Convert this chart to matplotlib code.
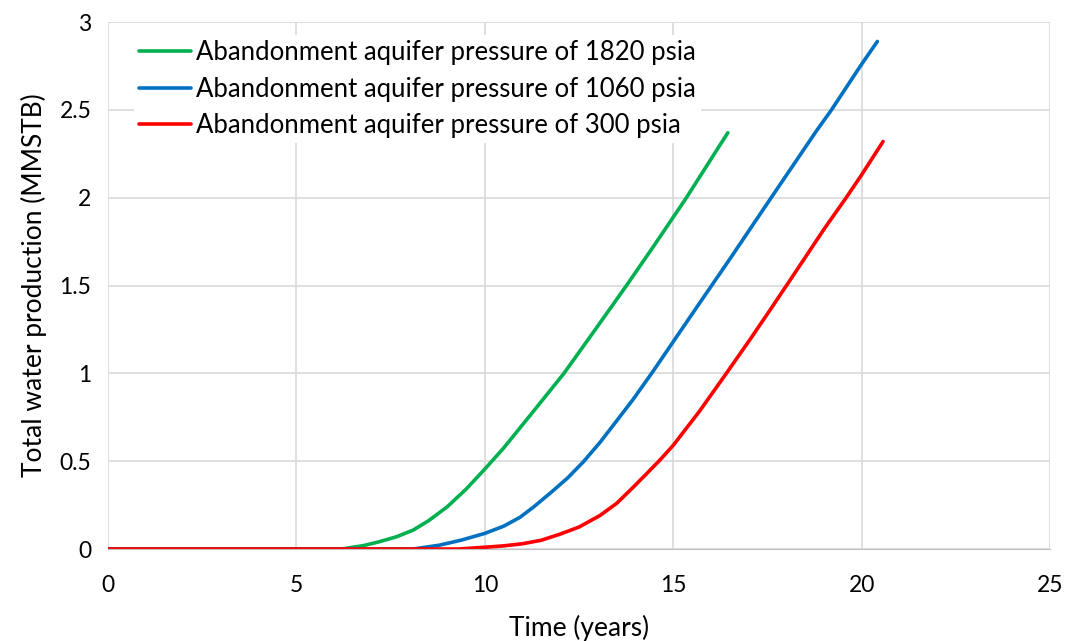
import numpy as np
import matplotlib.pyplot as plt

plt.rcParams['font.family'] = ['Lato', 'DejaVu Sans']

# values (years, MMSTB)
t_1820 = [0, 6.2, 6.77, 7.21, 7.66, 8.1, 8.5, 9.0, 9.5, 10, 10.5, 11.2, 12.1, 12.9, 13.76, 14.5, 15.35, 16.45]
w_1820 = [0, 0, 0.019, 0.042, 0.07, 0.108, 0.16, 0.24, 0.34, 0.455, 0.575, 0.76, 1.0, 1.24, 1.5, 1.73, 2.0, 2.37]

t_1060 = [0, 8.1, 8.8, 9.4, 10, 10.5, 10.93, 11.3, 11.8, 12.2, 12.61, 13.05, 13.5, 13.93, 14.46,
          15.0, 15.7, 16.5, 17.6, 18.8, 19.2, 20, 20.42]
w_1060 = [0, 0, 0.022, 0.052, 0.089, 0.13, 0.18, 0.24, 0.33, 0.405, 0.495, 0.605, 0.73, 0.85, 1.01,
          1.18, 1.4, 1.65, 2.0, 2.38, 2.5, 2.76, 2.89]

t_300 = [0, 9.3, 10, 10.5, 11, 11.5, 12, 12.5, 13.05, 13.5, 13.93, 14.3, 14.64, 15, 15.7, 16.41,
         17.03, 17.6, 18.1, 19.0, 19.59, 20, 20.57]
w_300 = [0, 0, 0.01, 0.018, 0.03, 0.05, 0.085, 0.125, 0.19, 0.26, 0.35, 0.43, 0.505, 0.59, 0.785, 1.0,
         1.19, 1.37, 1.53, 1.82, 2.0, 2.13, 2.32]

labels = ['Abandonment aquifer pressure of 1820 psia',
          'Abandonment aquifer pressure of 1060 psia',
          'Abandonment aquifer pressure of 300 psia']
colors = ['#00b050', '#0070c0', '#ff0000']

fig = plt.figure(figsize=(10.74, 6.41), dpi=100)
ax = fig.add_axes([0.1006, 0.1435, 0.877, 0.822])

for t, w, lab, c in zip([t_1820, t_1060, t_300], [w_1820, w_1060, w_300], labels, colors):
    ax.plot(t, w, color=c, lw=2.6, label=lab, solid_capstyle='round', solid_joinstyle='round')

ax.set_xlim(0, 25)
ax.set_ylim(0, 3)
ax.set_xticks([0, 5, 10, 15, 20, 25])
ax.set_yticks([0, 0.5, 1, 1.5, 2, 2.5, 3])
ax.set_yticklabels(['0', '0.5', '1', '1.5', '2', '2.5', '3'])
ax.grid(True, color='#d9d9d9', lw=1.2)
ax.set_axisbelow(True)
for s in ['top', 'right', 'left']:
    ax.spines[s].set_visible(False)
ax.spines['bottom'].set_color('#bfbfbf')
ax.tick_params(length=0, labelsize=16.5)
ax.tick_params(axis='x', pad=19)
ax.tick_params(axis='y', pad=12)

ax.set_xlabel('Time (years)', fontsize=19, labelpad=13)
ax.set_ylabel('Total water production (MMSTB)', fontsize=19, labelpad=9)

leg = ax.legend(loc='upper left', bbox_to_anchor=(0.014, 1.0), fontsize=18.5,
                frameon=True, fancybox=False, framealpha=1, edgecolor='none',
                handlelength=2.0, handletextpad=0.2, labelspacing=0.45,
                borderpad=0.2)

fig.savefig('out.png', dpi=100)
